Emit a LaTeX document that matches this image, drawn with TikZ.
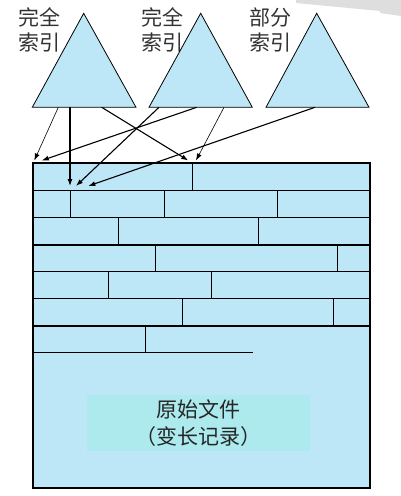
\documentclass[tikz,border=0pt]{standalone}
\usepackage{fontspec}
\newfontfamily\cjk{Noto Sans CJK SC}
\usetikzlibrary{arrows.meta}
\definecolor{recblue}{RGB}{189,231,246}
\definecolor{boxcyan}{RGB}{172,234,238}
\definecolor{shadegray}{RGB}{222,222,222}
\tikzset{
  idxlabel/.style={align=center, text=black!80, inner sep=0pt,
    font=\cjk\fontsize{21}{25}\selectfont},
  tree/.style={draw=black, fill=recblue, line width=0.8pt},
  ptr/.style={-{Latex[length=7pt,width=5pt]}, line width=1.1pt},
  thinptr/.style={ptr, line width=0.6pt},
  rowline/.style={line width=1.3pt},
  cut/.style={line width=0.9pt}
}

\begin{document}
\begin{tikzpicture}[x=1pt,y=-1pt]
  \useasboundingbox (0,0) rectangle (401,496);
  % grey smudge top right
  \fill[shadegray] (296,0)--(401,0)--(401,16)--(380,13)--(380,11)--(296,3)--cycle;

  % index labels
  \node[idxlabel] (lab1) at (39.5,30) {完全\\索引};
  \node[idxlabel] (lab2) at (162,30) {完全\\索引};
  \node[idxlabel] (lab3) at (270,30) {部分\\索引};

  % index trees
  \draw[tree] (83.7,13.3)--(136,107.3)--(32.3,107.3)--cycle;
  \draw[tree] (200.7,13.3)--(252.3,107.3)--(149,107.3)--cycle;
  \draw[tree] (316.7,13.3)--(369,107.3)--(266,107.3)--cycle;

  % record file
  \fill[recblue] (33,163) rectangle (370,488);
  \node[fill=boxcyan, minimum width=223pt, minimum height=56pt, inner sep=0pt,
    align=center, font=\cjk\fontsize{21}{27}\selectfont, text=black!85]
    (orig) at (198.5,423) {原始文件\\（变长记录）};
  \draw[rowline] (33,163) rectangle (370,488);
  \foreach \y in {190.7,217.7,245,271.7,298.7,326}
    \draw[rowline] (33,\y)--(370,\y);
  \draw[rowline] (33,352.7)--(253,352.7);
  % record boundaries
  \draw[cut] (192,163)--(192,190.7);
  \draw[cut] (70,190.7)--(70,217.7) (164.7,190.7)--(164.7,217.7) (277,190.7)--(277,217.7);
  \draw[cut] (118.7,217.7)--(118.7,245) (258.3,217.7)--(258.3,245);
  \draw[cut] (155,245)--(155,271.7) (337,245)--(337,271.7);
  \draw[cut] (108.3,271.7)--(108.3,298.7) (211.3,271.7)--(211.3,298.7);
  \draw[cut] (182.7,298.7)--(182.7,326) (333.3,298.7)--(333.3,326);
  \draw[cut] (145.7,326)--(145.7,352.7);

  % pointers
  \coordinate (a1) at (58.3,107.3);
  \coordinate (a2) at (70,107.3);
  \coordinate (a3) at (101.7,107.3);
  \coordinate (b1) at (159,107.3);
  \coordinate (b2) at (196.7,107.3);
  \coordinate (b3) at (224,107.3);
  \coordinate (c1) at (315,107.3);
  \coordinate (r1) at (34.3,160.5);
  \coordinate (r1b) at (41.7,160.5);
  \coordinate (r2) at (188.3,160.5);
  \coordinate (r2b) at (196,160.5);
  \coordinate (s1) at (70,186);
  \coordinate (s2) at (76,186);
  \coordinate (s3) at (88.3,186);
  \draw[thinptr] (a1)--(r1);
  \draw[ptr] (a2)--(s1);
  \draw[ptr] (a3)--(r2);
  \draw[ptr] (b1)--(s2);
  \draw[ptr] (b2)--(r1b);
  \draw[thinptr] (b3)--(r2b);
  \draw[ptr] (c1)--(s3);
\end{tikzpicture}
\end{document}
